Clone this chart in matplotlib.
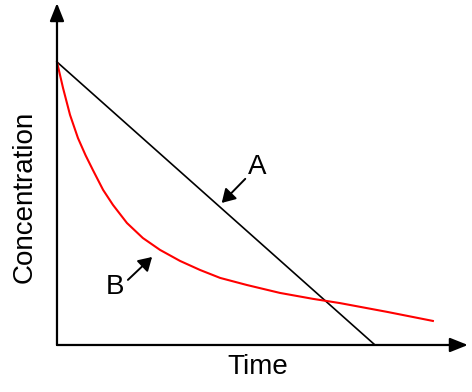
import matplotlib
matplotlib.use("Agg")
import matplotlib.pyplot as plt

plt.rcParams['font.family'] = ['Liberation Sans', 'DejaVu Sans']

# Data (arbitrary units: time 0..13, concentration 0..12)
line_a_t = [0.0, 10.0]
line_a_c = [10.0, 0.0]
curve_b_t = [0.0, 0.19, 0.41, 0.66, 0.90, 1.13, 1.45, 1.76, 2.20, 2.70, 3.24,
             3.87, 4.50, 5.13, 5.97, 7.01, 8.05, 8.90, 10.38, 11.82]
curve_b_c = [10.0, 9.08, 8.13, 7.31, 6.70, 6.18, 5.48, 4.95, 4.31, 3.78, 3.36,
             2.97, 2.65, 2.37, 2.12, 1.84, 1.63, 1.48, 1.17, 0.85]

x_label = "Time"
y_label = "Concentration"
label_a = "A"
label_b = "B"

fig = plt.figure(figsize=(4.72, 3.92), dpi=100)
ax = fig.add_axes([0, 0, 1, 1])
ax.set_xlim(-1.792, 13.05)
ax.set_ylim(-1.661, 12.19)
ax.axis('off')

ax.plot(line_a_t, line_a_c, color='black', lw=1.2, solid_capstyle='butt')
ax.plot(curve_b_t, curve_b_c, color='#ff0000', lw=1.5, solid_joinstyle='round')

axis_arrow = dict(arrowstyle='-|>,head_length=0.6,head_width=0.24', mutation_scale=18,
                  color='black', lw=1.6, shrinkA=0, shrinkB=0)
ax.annotate('', xy=(12.92, 0), xytext=(0, 0), arrowprops=axis_arrow)
ax.annotate('', xy=(0, 12.08), xytext=(0, 0), arrowprops=axis_arrow)

small_arrow = dict(arrowstyle='-|>,head_length=0.5,head_width=0.3', mutation_scale=16,
                   color='black', lw=1.4, shrinkA=0, shrinkB=0)
ax.annotate('', xy=(5.18, 5.02), xytext=(5.92, 5.87), arrowprops=small_arrow)
ax.annotate('', xy=(2.99, 3.11), xytext=(2.23, 2.30), arrowprops=small_arrow)

ax.text(6.29, 6.29, label_a, fontsize=20, ha='center', va='center')
ax.text(1.82, 2.05, label_b, fontsize=20, ha='center', va='center')
ax.text(6.32, -0.78, x_label, fontsize=20, ha='center', va='center')
ax.text(-1.006, 5.23, y_label, fontsize=20, ha='center', va='center', rotation=90)

fig.savefig('out.png', dpi=100)
